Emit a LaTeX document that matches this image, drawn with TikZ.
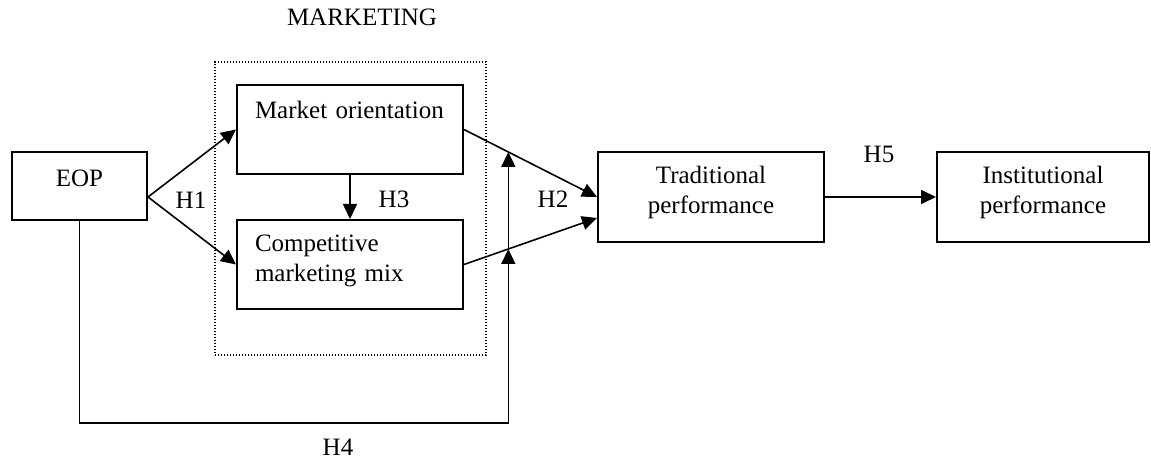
\documentclass[tikz,border=0pt]{standalone}
\usepackage{fontspec}
\setmainfont{Liberation Serif}
\usetikzlibrary{arrows.meta, calc}

\begin{document}
\begin{tikzpicture}[
    x=0.5pt, y=-0.5pt,
    font=\fontsize{12.5}{15}\selectfont,
    blk/.style={draw, line width=1pt, inner sep=0pt, align=center},
    mix/.style={blk, align=left, inner xsep=9pt, text width=95pt},
    grp/.style={draw, dash pattern=on 0.6pt off 0.9pt, line width=0.6pt,
                minimum width=135.5pt, minimum height=146.5pt, inner sep=0pt},
    lab/.style={inner sep=1pt},
    sig/.style={-{Triangle[length=7.5pt,width=7pt]}, line width=0.8pt},
  ]
  \useasboundingbox (0,0) rectangle (1151,458);

  %% ---- marketing group ----------------------------------------------
  \node[lab] (mkt) at (362,17) {MARKETING};
  \node[grp] (grp) at (350.5,208.5) {};

  %% ---- boxes --------------------------------------------------------
  \node[blk, text width=67.5pt, text height=17.25pt, text depth=16.75pt]
    (EOP) at (79.5,186) {EOP};
  \node[mix, text height=16.75pt, text depth=27.75pt]
    (MO) at (350,129.5) {Market orientation};
  \node[mix, text height=16pt, text depth=28.5pt]
    (CMM) at (350,264.5) {Competitive\\ marketing mix};
  \node[blk, text width=113pt, text height=16pt, text depth=29pt]
    (TP) at (711,197) {Traditional\\ performance};
  \node[blk, text width=106pt, text height=16pt, text depth=29pt]
    (IP) at (1043,197) {Institutional\\ performance};

  %% ---- hypotheses ---------------------------------------------------
  \draw[sig] ([yshift=-5.5pt]EOP.east) -- (MO.west);
  \draw[sig] ([yshift=-5.5pt]EOP.east) -- (CMM.west);
  \draw[sig] (MO.south) -- (CMM.north);
  \draw[sig] (MO.east) -- (TP.west);
  \draw[sig] (CMM.east) -- ([yshift=-10.5pt]TP.west);
  \draw[sig] (TP.east) -- (IP.west);

  %% ---- moderation by EOP --------------------------------------------
  \coordinate (up) at ($(MO.east)!1/3!(TP.west)$);
  \coordinate (lo) at ($(CMM.east)!1/3!([yshift=-10.5pt]TP.west)$);
  \draw[sig] (EOP.south) -- ++(0,202) -| (lo);
  \draw[sig] (lo) -- (up);

  \node[lab] (h1) at (191,200) {H1};
  \node[lab] (h3) at (394,199) {H3};
  \node[lab] (h2) at (553,199) {H2};
  \node[lab] (h5) at (879,154) {H5};
  \node[lab] (h4) at (338,447) {H4};

\end{tikzpicture}
\end{document}
